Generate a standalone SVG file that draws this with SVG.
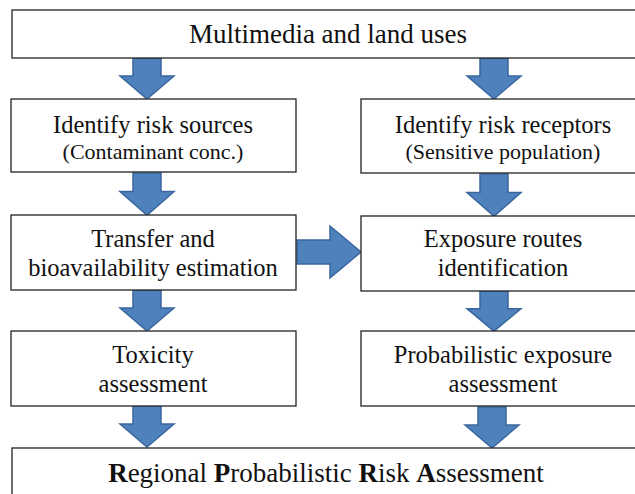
<svg xmlns="http://www.w3.org/2000/svg" width="635" height="494" viewBox="0 0 635 494">
<style>
.box{fill:#fff;stroke:#222;stroke-width:1.3}
.t{font-family:'Liberation Serif','Times New Roman',serif;fill:#111;text-anchor:middle}
.big{font-size:27px}
.mid{font-size:24.5px}
.sm{font-size:22px}
.b{font-weight:bold}
.arr{fill:#4F81BD;stroke:#3A679E;stroke-width:1.5;stroke-linejoin:miter}
</style>
<defs>
<path id="down" d="M-14,0 H14 V18 H27 L0,41 L-27,18 H-14 Z"/>
</defs>
<rect width="635" height="494" fill="#fff"/>
<g id="connectors">
<use href="#down" class="arr" transform="translate(147,58)"/>
<use href="#down" class="arr" transform="translate(494,58)"/>
<use href="#down" class="arr" transform="translate(147,173) scale(1,1.03)"/>
<use href="#down" class="arr" transform="translate(494,174) scale(1,1.03)"/>
<use href="#down" class="arr" transform="translate(147,290)"/>
<use href="#down" class="arr" transform="translate(494,291) scale(1,0.98)"/>
<use href="#down" class="arr" transform="translate(147,406)"/>
<use href="#down" class="arr" transform="translate(492,407)"/>
<path class="arr" d="M297,240 H330 V226 L361,252 L330,278 V264 H297 Z"/>
</g>
<g id="n-top">
<rect class="box" x="12" y="10" width="640" height="48"/>
<text class="t big" x="328" y="43">Multimedia and land uses</text>
</g>
<g id="n-sources">
<rect class="box" x="11" y="99" width="285" height="73"/>
<text class="t mid" x="153" y="133">Identify risk sources</text>
<text class="t sm" x="153" y="159">(Contaminant conc.)</text>
</g>
<g id="n-receptors">
<rect class="box" x="361" y="99" width="290" height="74"/>
<text class="t mid" x="503" y="133">Identify risk receptors</text>
<text class="t sm" x="503" y="159">(Sensitive population)</text>
</g>
<g id="n-transfer">
<rect class="box" x="11" y="215" width="285" height="75"/>
<text class="t mid" x="153" y="247">Transfer and</text>
<text class="t mid" x="153" y="276">bioavailability estimation</text>
</g>
<g id="n-routes">
<rect class="box" x="361" y="216" width="290" height="75"/>
<text class="t mid" x="503" y="247">Exposure routes</text>
<text class="t mid" x="503" y="276">identification</text>
</g>
<g id="n-toxicity">
<rect class="box" x="11" y="331" width="285" height="75"/>
<text class="t mid" x="153" y="363">Toxicity</text>
<text class="t mid" x="153" y="392">assessment</text>
</g>
<g id="n-exposure">
<rect class="box" x="361" y="331" width="290" height="75"/>
<text class="t mid" x="503" y="363">Probabilistic exposure</text>
<text class="t mid" x="503" y="392">assessment</text>
</g>
<g id="n-rpra">
<rect class="box" x="12" y="448" width="640" height="60"/>
<text class="t big" x="326" y="482"><tspan class="b">R</tspan>egional <tspan class="b">P</tspan>robabilistic <tspan class="b">R</tspan>isk <tspan class="b">A</tspan>ssessment</text>
</g>
</svg>
